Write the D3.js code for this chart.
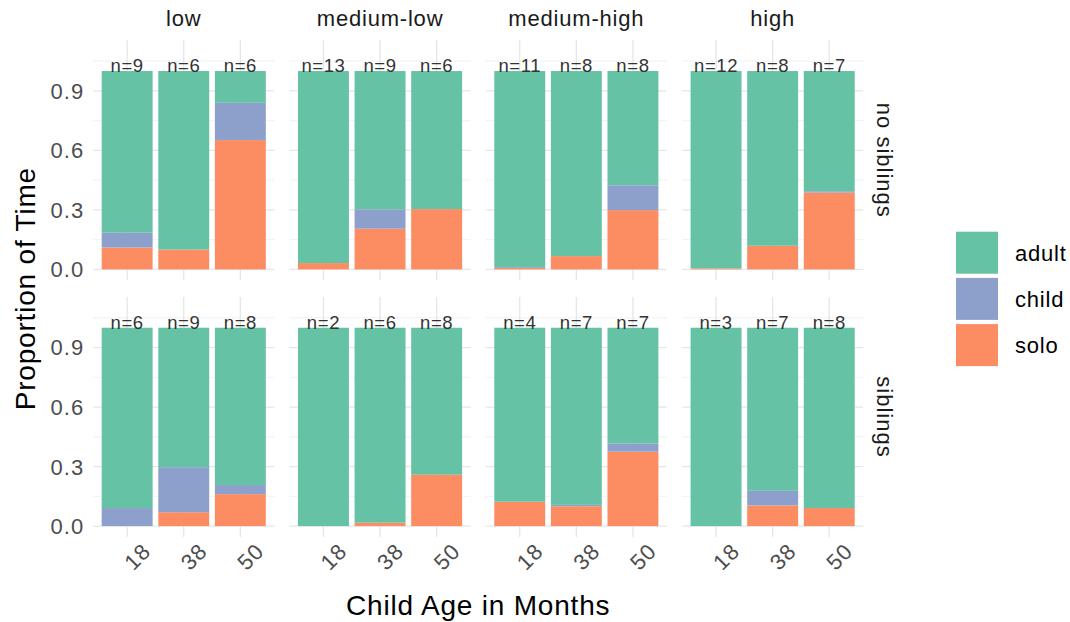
<!DOCTYPE html>
<html>
<head>
<meta charset="utf-8">
<script src="https://cdn.jsdelivr.net/npm/d3@7"></script>
<style>
  html, body { margin: 0; padding: 0; background: #ffffff; }
  svg text { font-family: "Liberation Sans", Arial, Helvetica, sans-serif; }
</style>
</head>
<body>
<svg id="chart" width="1070" height="622"></svg>
<script>
// Facet columns, facet rows and bar categories
const groups = ["low", "medium-low", "medium-high", "high"];
const rows = ["no siblings", "siblings"];
const ages = ["18", "38", "50"];
const activities = ["adult", "child", "solo"];
const colors = ["#66c2a5", "#8da0cb", "#fc8d62"];
const yTicks = [0, 0.3, 0.6, 0.9];
const yMinor = [0.15, 0.45, 0.75, 1.05];

// Proportion of time spent solo / with another child, per group (rows) and age (columns)
const soloNoSib  = [[0.110, 0.100, 0.652], [0.032, 0.205, 0.304], [0.008, 0.067, 0.299], [0.005, 0.119, 0.387]];
const childNoSib = [[0.075, 0.000, 0.188], [0.000, 0.098, 0.000], [0.004, 0.000, 0.125], [0.000, 0.000, 0.007]];
const soloSib    = [[0.000, 0.070, 0.161], [0.000, 0.017, 0.259], [0.123, 0.100, 0.375], [0.000, 0.104, 0.091]];
const childSib   = [[0.091, 0.227, 0.046], [0.000, 0.000, 0.000], [0.000, 0.007, 0.042], [0.000, 0.074, 0.000]];

// Number of children behind each bar
const nNoSib = [[9, 6, 6], [13, 9, 6], [11, 8, 8], [12, 8, 7]];
const nSib   = [[6, 9, 8], [2, 6, 8], [4, 7, 7], [3, 7, 8]];

const soloByRow = [soloNoSib, soloSib];
const childByRow = [childNoSib, childSib];
const nByRow = [nNoSib, nSib];

// Panel geometry
const panelX0 = 93.2, panelStepX = 196.3, panelW = 181.1;
const panelY0 = 40.3, panelStepY = 256.7, panelH = 240;

const svg = d3.select("#chart");
const color = d3.scaleOrdinal().domain(activities).range(colors);

const x = d3.scaleBand().domain(ages).range([0, panelW]).paddingInner(0.1).paddingOuter(0.15);
const y = d3.scaleLinear().domain([-0.055, 1.155]).range([panelH, 0]);

rows.forEach((rowName, r) => {
  groups.forEach((g, c) => {
    const panel = svg.append("g")
      .attr("transform", `translate(${panelX0 + c * panelStepX},${panelY0 + r * panelStepY})`);

    // minor and major horizontal grid
    panel.selectAll(".minor").data(yMinor).join("line")
      .attr("x1", 0).attr("x2", panelW)
      .attr("y1", d => y(d)).attr("y2", d => y(d))
      .attr("stroke", "#eeeeee").attr("stroke-width", 0.8);
    panel.selectAll(".major").data(yTicks).join("line")
      .attr("x1", 0).attr("x2", panelW)
      .attr("y1", d => y(d)).attr("y2", d => y(d))
      .attr("stroke", "#e6e6e6").attr("stroke-width", 1.3);
    // vertical grid at each age
    panel.selectAll(".vgrid").data(ages).join("line")
      .attr("x1", d => x(d) + x.bandwidth() / 2).attr("x2", d => x(d) + x.bandwidth() / 2)
      .attr("y1", 0).attr("y2", panelH)
      .attr("stroke", "#e6e6e6").attr("stroke-width", 1.3);

    // stacked segments: solo at the bottom, child above, adult on top
    const bars = ages.map((a, i) => {
      const solo = soloByRow[r][c][i];
      const child = childByRow[r][c][i];
      const adult = 1 - solo - child;
      return { age: a, solo, child, adult, n: nByRow[r][c][i] };
    });
    const stack = d3.stack().keys(["solo", "child", "adult"])(bars);
    stack.forEach(layer => {
      panel.selectAll(null).data(layer).join("rect")
        .attr("x", d => x(d.data.age))
        .attr("width", x.bandwidth())
        .attr("y", d => y(d[1]))
        .attr("height", d => Math.max(0, y(d[0]) - y(d[1])))
        .attr("fill", color(layer.key));
    });

    // sample size labels
    panel.selectAll(".nlab").data(bars).join("text")
      .attr("x", d => x(d.age) + x.bandwidth() / 2)
      .attr("y", y(1) + 1)
      .attr("text-anchor", "middle")
      .attr("font-size", 18.5)
      .attr("letter-spacing", 0.6)
      .attr("fill", "#333333")
      .text(d => "n=" + d.n);

    // y axis labels on the first column
    if (c === 0) {
      panel.selectAll(".ytick").data(yTicks).join("text")
        .attr("x", -9)
        .attr("y", d => y(d))
        .attr("dy", "0.36em")
        .attr("text-anchor", "end")
        .attr("font-size", 22)
        .attr("letter-spacing", 1)
        .attr("fill", "#4d4d4d")
        .text(d => d3.format(".1f")(d));
    }

    // x axis labels on the bottom row
    if (r === rows.length - 1) {
      panel.selectAll(".xtick").data(ages).join("text")
        .attr("transform", d => `translate(${x(d) + x.bandwidth() / 2 + 10},${panelH + 19.5}) rotate(-45)`)
        .attr("dy", "0.36em")
        .attr("text-anchor", "middle")
        .attr("font-size", 22)
        .attr("letter-spacing", 1)
        .attr("fill", "#4d4d4d")
        .text(d => d);
    }

    // column strip labels
    if (r === 0) {
      panel.append("text")
        .attr("x", panelW / 2).attr("y", -22)
        .attr("dy", "0.36em")
        .attr("text-anchor", "middle")
        .attr("font-size", 22)
        .attr("letter-spacing", 0.8)
        .attr("fill", "#1a1a1a")
        .text(g);
    }
    // row strip labels
    if (c === groups.length - 1) {
      panel.append("text")
        .attr("transform", `translate(${panelW + 22},${panelH / 2}) rotate(90)`)
        .attr("dy", "0.36em")
        .attr("text-anchor", "middle")
        .attr("font-size", 22)
        .attr("letter-spacing", 1)
        .attr("fill", "#1a1a1a")
        .text(rowName);
    }
  });
});

// axis titles
const plotMidX = panelX0 + (3 * panelStepX + panelW) / 2;
const plotMidY = panelY0 + (panelStepY + panelH) / 2;
svg.append("text")
  .attr("transform", `translate(25,${plotMidY}) rotate(-90)`)
  .attr("dy", "0.36em")
  .attr("text-anchor", "middle")
  .attr("font-size", 28)
  .attr("letter-spacing", 0.8)
  .attr("fill", "#000000")
  .text("Proportion of Time");
svg.append("text")
  .attr("x", plotMidX).attr("y", 605)
  .attr("dy", "0.36em")
  .attr("text-anchor", "middle")
  .attr("font-size", 28)
  .attr("letter-spacing", 0.8)
  .attr("fill", "#000000")
  .text("Child Age in Months");

// legend
const legend = svg.append("g").attr("transform", "translate(956,231.7)");
activities.forEach((a, i) => {
  const row = legend.append("g").attr("transform", `translate(0,${i * 46.2})`);
  row.append("rect").attr("width", 42).attr("height", 42).attr("fill", color(a));
  row.append("text")
    .attr("x", 59).attr("y", 21)
    .attr("dy", "0.36em")
    .attr("font-size", 22)
    .attr("letter-spacing", 0.8)
    .attr("fill", "#000000")
    .text(a);
});
</script>
</body>
</html>
